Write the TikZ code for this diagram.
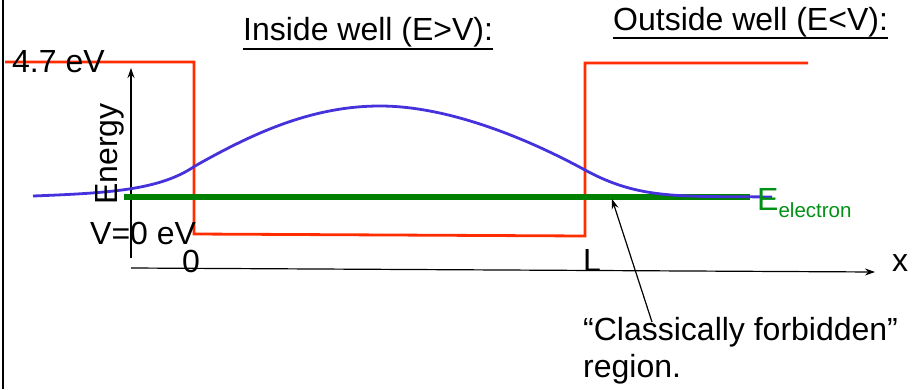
\documentclass[tikz,border=0pt]{standalone}
\usepackage{fontspec}
\setmainfont{Liberation Sans}
\usetikzlibrary{arrows.meta}
\definecolor{wallred}{RGB}{255,45,0}
\definecolor{psiblue}{RGB}{70,50,220}
\definecolor{egreen}{RGB}{0,128,0}
\definecolor{tgreen}{RGB}{0,145,20}
\begin{document}
\begin{tikzpicture}[x=1pt,y=-1pt,
  lbl/.style={font=\fontsize{32}{38}\selectfont, inner sep=0pt, anchor=base west},
  axis/.style={line width=1.2pt, -{Stealth[length=10pt,width=7pt]}},
  wall/.style={wallred, line width=2.8pt},
  wave/.style={psiblue, line width=2.8pt},
  level/.style={egreen, line width=6pt},
  uline/.style={line width=2.8pt}]
\useasboundingbox (0,0) rectangle (913,389);
% left frame line
\draw[line width=2pt] (3,0) -- (3,389);
% potential walls
\draw[wall] (5,62) -- (194,62) -- (194,234) -- (585,236) -- (585,63) -- (808,63);
% axes
\coordinate (ybot) at (131,258);
\coordinate (ytop) at (131,68);
\coordinate (xl) at (131,268);
\coordinate (xr) at (875,272);
\draw[axis] (ybot) -- (ytop);
\draw[axis] (xl) -- (xr);
% electron energy level
\coordinate (gl) at (124,197);
\coordinate (gr) at (750,197);
\draw[level] (gl) -- (gr);
% wave function
\draw[wave] (33,196) .. controls (110,193) and (160,190) .. (195,166)
  .. controls (250,135) and (310,106) .. (380,106)
  .. controls (450,106) and (530,140) .. (585,170)
  .. controls (640,200) and (680,196) .. (772,197);
% labels
\node[lbl] (top) at (12,72) {4.7 eV};
\node[lbl, rotate=90] (energy) at (117,205) {Energy};
\node[lbl] (vzero) at (90,244) {V=0 eV};
\node[lbl] (zero) at (182,272) {0};
\node[lbl] (ell) at (583,271) {L};
\node[lbl] (xlab) at (892,271) {x};
\node[lbl, text=tgreen] (eel) at (757,210) {E\raisebox{-7pt}{\fontsize{20.5}{24}\selectfont electron}};
% titles
\node[lbl] (tin) at (243,40) {Inside well (E>V):};
\node[lbl] (tout) at (613,30) {Outside well (E<V):};
\draw[uline] ([yshift=-9pt]tin.base west) -- ([yshift=-9pt]tin.base east);
\draw[uline] ([yshift=-8pt]tout.base west) -- ([yshift=-8pt]tout.base east);
% annotation
\node[lbl] (forb) at (583,340) {\char"201C Classically forbidden\char"201D};
\node[lbl] (reg) at (583,377) {region.};
\coordinate (astart) at (652,322);
\coordinate (aend) at (612,199);
\draw[line width=1.2pt, -{Stealth[length=10pt,width=7pt]}] (astart) -- (aend);
\end{tikzpicture}
\end{document}
